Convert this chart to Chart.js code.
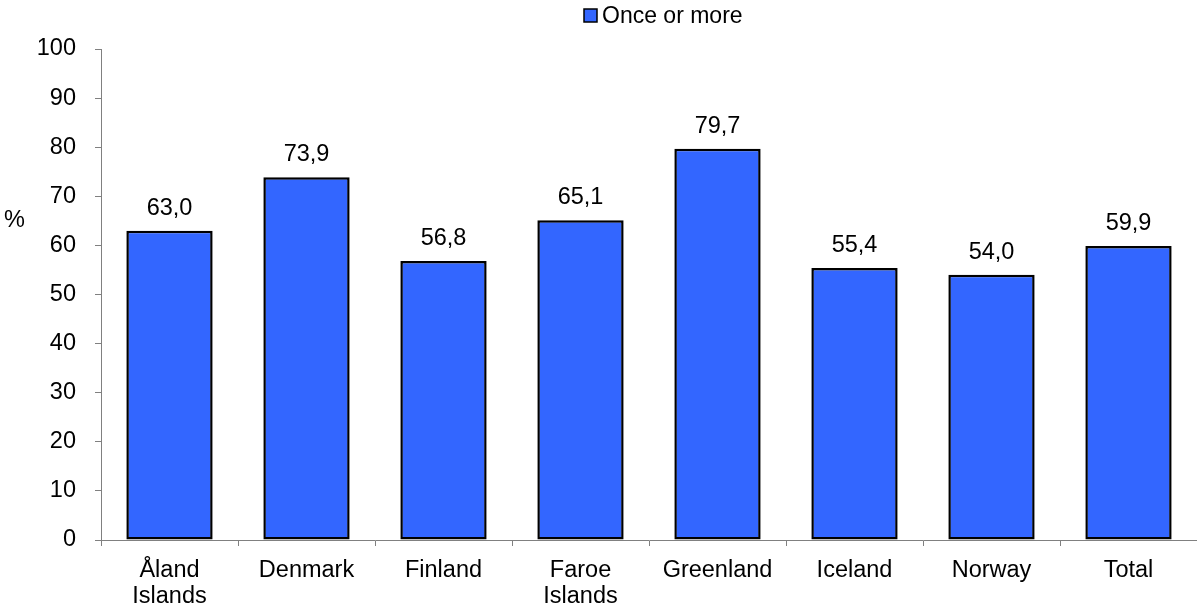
<!DOCTYPE html>
<html>
<head>
<meta charset="utf-8">
<script src="https://cdn.jsdelivr.net/npm/chart.js@4/dist/chart.umd.min.js"></script>
<style>
html,body{margin:0;padding:0;background:#fff;}
#wrap{width:1197px;height:612px;position:relative;}
</style>
</head>
<body>
<div id="wrap"><canvas id="c" width="1197" height="612"></canvas></div>
<script>
const categories = [["Åland","Islands"],"Denmark","Finland",["Faroe","Islands"],"Greenland","Iceland","Norway","Total"];
const seriesName = "Once or more";
const values = [63.0, 73.9, 56.8, 65.1, 79.7, 55.4, 54.0, 59.9];
const yTicks = [0,10,20,30,40,50,60,70,80,90,100];
const yTitle = "%";

const FONT = "'Liberation Sans', Arial, sans-serif";
const FS = 23.5;

const extras = {
  id: 'extras',
  afterDatasetsDraw(chart) {
    const ctx = chart.ctx;
    const meta = chart.getDatasetMeta(0);
    ctx.save();
    ctx.fillStyle = '#000';
    ctx.font = FS + 'px ' + FONT;
    ctx.textAlign = 'center';
    ctx.textBaseline = 'alphabetic';
    meta.data.forEach((bar, i) => {
      const v = chart.data.datasets[0].data[i];
      ctx.fillText(v.toFixed(1).replace('.', ','), bar.x, bar.y - 16);
    });
    // y title
    ctx.textAlign = 'left';
    ctx.fillText(yTitle, 4, 227);
    // legend
    const ds = chart.data.datasets[0];
    ctx.fillStyle = ds.backgroundColor;
    ctx.fillRect(584, 9, 13, 13);
    ctx.strokeStyle = '#000';
    ctx.lineWidth = 1.5;
    ctx.strokeRect(584, 9, 13, 13);
    ctx.fillStyle = '#000';
    ctx.font = '23px ' + FONT;
    ctx.fillText(ds.label, 602, 23);
    ctx.restore();
  }
};

new Chart(document.getElementById('c'), {
  type: 'bar',
  data: {
    labels: categories,
    datasets: [{
      label: seriesName,
      data: values,
      backgroundColor: '#3366FF',
      borderColor: '#000000',
      borderWidth: 2.5,
      borderSkipped: false,
      barPercentage: 0.63,
      categoryPercentage: 1.0
    }]
  },
  options: {
    responsive: false,
    animation: false,
    layout: { padding: { top: 49, right: 0, bottom: 0, left: 0 } },
    plugins: { legend: { display: false }, tooltip: { enabled: false } },
    scales: {
      x: {
        offset: true,
        grid: { display: true, drawOnChartArea: false, offset: true, tickLength: 6, color: '#808080', lineWidth: 1 },
        border: { display: true, color: '#808080', width: 1 },
        ticks: { color: '#000', font: { family: FONT, size: FS, lineHeight: 1.1 }, padding: 12, maxRotation: 0, autoSkip: false },
        afterFit(scale) { scale.height = 72; }
      },
      y: {
        min: 0, max: 100,
        afterBuildTicks(scale) { scale.ticks = yTicks.map(v => ({ value: v })); },
        grid: { display: true, drawOnChartArea: false, tickLength: 6, color: '#808080', lineWidth: 1 },
        border: { display: true, color: '#808080', width: 1 },
        ticks: { color: '#000', font: { family: FONT, size: FS }, padding: 19 },
        afterFit(scale) { scale.width = 101; }
      }
    }
  },
  plugins: [extras]
});
</script>
</body>
</html>
